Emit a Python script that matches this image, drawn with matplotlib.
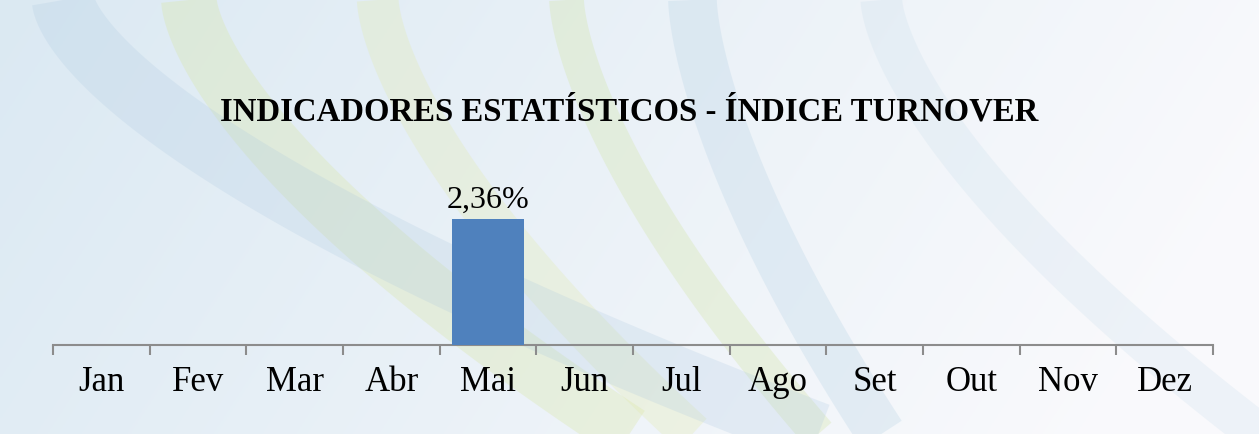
import matplotlib.pyplot as plt
import numpy as np

months = ['Jan', 'Fev', 'Mar', 'Abr', 'Mai', 'Jun', 'Jul', 'Ago', 'Set', 'Out', 'Nov', 'Dez']
turnover = [None, None, None, None, 2.36, None, None, None, None, None, None, None]
title = 'INDICADORES ESTATÍSTICOS - ÍNDICE TURNOVER'

plt.rcParams['font.family'] = ['Liberation Serif', 'DejaVu Serif']

fig = plt.figure(figsize=(12.59, 4.34), dpi=100)

# decorative background: pale blue wash with a few soft streaks
bg = fig.add_axes([0, 0, 1, 1])
bg.set_xlim(0, 1)
bg.set_ylim(0, 1)
yy, xx = np.mgrid[0:1:200j, 0:1:400j]
shade = 0.45 + 0.55 * np.clip(xx * 0.9 + (1 - yy) * 0.2, 0, 1)
rgb = np.dstack([0.76 + 0.22 * shade, 0.86 + 0.12 * shade, 0.92 + 0.07 * shade])
bg.imshow(np.clip(rgb, 0, 1), extent=[0, 1, 0, 1], aspect='auto', origin='lower')
t = np.linspace(0, 1, 100)
for x0, dx, col, lw, a in [(0.15, 0.35, '#d8e6a0', 40, 0.30), (0.30, 0.25, '#e2eaa8', 30, 0.28),
                           (0.45, 0.20, '#cfe39a', 25, 0.28), (0.55, 0.15, '#b9d4e6', 35, 0.30),
                           (0.05, 0.60, '#a9c6df', 45, 0.22), (0.70, 0.30, '#c4dbea', 30, 0.22)]:
    bg.plot(x0 + dx * t ** 1.5, 1 - t, color=col, lw=lw, alpha=a, solid_capstyle='butt')
bg.axis('off')

ax = fig.add_axes([0.0421, 0.205, 0.9214, 0.38])
ax.patch.set_alpha(0)
x = np.arange(len(months))
vals = [v if v is not None else 0 for v in turnover]
ax.bar(x, vals, width=0.75, color='#4f81bd', zorder=3)
for xi, v in zip(x, turnover):
    if v is not None:
        ax.text(xi, v + 0.08, f'{v:.2f}%'.replace('.', ','), ha='center', va='bottom', fontsize=23)

ax.set_xlim(-0.5, len(months) - 0.5)
ax.set_ylim(0, 3.1)
ax.set_xticks(np.arange(-0.5, len(months), 1.0), minor=False)
ax.set_xticklabels([])
ax.set_xticks(x, minor=True)
ax.set_xticklabels(months, minor=True, fontsize=25)
ax.tick_params(axis='x', which='major', length=7, width=1.5, color='#8c8c8c', direction='out')
ax.tick_params(axis='x', which='minor', length=0, pad=15)
ax.set_yticks([])
for s in ['top', 'right', 'left']:
    ax.spines[s].set_visible(False)
ax.spines['bottom'].set_color('#8c8c8c')
ax.spines['bottom'].set_linewidth(1.5)

fig.text(0.5, 0.742, title, ha='center', va='center', fontsize=23.6, fontweight='bold')

fig.savefig('out.png', dpi=100)
